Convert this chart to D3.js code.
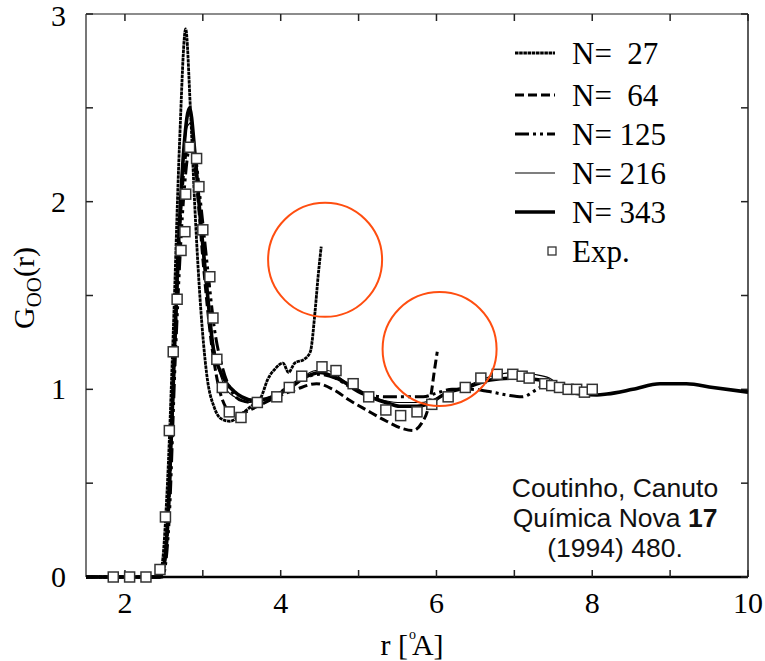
<!DOCTYPE html>
<html>
<head>
<meta charset="utf-8">
<script src="https://cdn.jsdelivr.net/npm/d3@7"></script>
<style>
  body { margin: 0; background: white; }
  svg { display: block; }
</style>
</head>
<body>
<div id="vis"></div>
<script>
// ---- data: [r (Å), G_OO(r)] ----
const n27 = [[1.5,0],[2.4,0],[2.47,0.05],[2.54,0.45],[2.62,1.3],[2.7,2.3],[2.78,2.92],[2.84,2.5],[2.9,1.95],[2.97,1.45],
  [3.05,1.08],[3.15,0.9],[3.25,0.84],[3.35,0.83],[3.5,0.87],[3.65,0.92],[3.75,0.96],[3.83,1.05],[3.93,1.11],[4.03,1.14],
  [4.1,1.09],[4.18,1.14],[4.3,1.16],[4.38,1.2],[4.44,1.41],[4.48,1.6],[4.52,1.76]]
const n64 = [[1.5,0],[2.46,0],[2.54,0.2],[2.62,1.0],[2.71,1.9],[2.8,2.28],[2.86,2.3],[2.93,2.05],[3.01,1.65],[3.1,1.28],
  [3.2,1.02],[3.3,0.9],[3.4,0.86],[3.55,0.88],[3.75,0.92],[3.95,0.96],[4.2,1.0],[4.46,1.03],[4.67,1.0],[4.89,0.94],
  [5.1,0.89],[5.36,0.83],[5.57,0.79],[5.7,0.78],[5.81,0.82],[5.88,0.88],[5.93,0.97],[5.97,1.09],[6.01,1.2]]
const n125 = [[1.5,0],[2.48,0],[2.56,0.25],[2.65,1.2],[2.75,2.0],[2.84,2.3],[2.9,2.25],[2.97,2.0],[3.06,1.65],[3.15,1.32],
  [3.25,1.12],[3.37,0.99],[3.5,0.94],[3.65,0.93],[3.85,0.95],[4.05,1.0],[4.25,1.05],[4.5,1.08],[4.7,1.06],[4.9,1.01],
  [5.1,0.97],[5.36,0.96],[5.6,0.96],[5.83,0.96],[6.0,0.98],[6.2,1.0],[6.45,1.0],[6.65,0.99],[6.9,0.97],[7.1,0.96],
  [7.29,1.0],[7.42,1.03],[7.6,1.01],[7.8,0.99]]
const n216 = [[1.5,0],[2.45,0],[2.53,0.2],[2.62,1.1],[2.72,2.0],[2.8,2.4],[2.85,2.42],[2.92,2.1],[3.0,1.72],[3.08,1.4],
  [3.18,1.15],[3.3,1.0],[3.45,0.95],[3.6,0.93],[3.8,0.95],[4.0,0.99],[4.2,1.04],[4.45,1.1],[4.6,1.1],[4.8,1.05],
  [5.0,0.99],[5.25,0.95],[5.5,0.93],[5.8,0.93],[6.1,0.97],[6.4,1.02],[6.7,1.07],[7.0,1.09],[7.25,1.08],[7.45,1.06],
  [7.62,1.01],[7.8,0.99],[7.95,0.985]]
const n343 = [[1.5,0],[2.45,0],[2.52,0.12],[2.6,0.8],[2.68,1.7],[2.76,2.3],[2.83,2.5],[2.9,2.25],[2.97,1.9],[3.05,1.55],
  [3.13,1.23],[3.22,1.1],[3.31,1.03],[3.4,0.99],[3.5,0.96],[3.67,0.94],[3.82,0.95],[4.0,0.98],[4.12,1.01],[4.34,1.07],
  [4.5,1.09],[4.72,1.06],[4.93,1.01],[5.15,0.96],[5.35,0.93],[5.53,0.91],[5.75,0.91],[5.88,0.92],[6.13,0.98],[6.39,1.01],
  [6.69,1.05],[7.03,1.06],[7.33,1.05],[7.5,1.02],[7.67,0.99],[7.85,0.975],[8.06,0.97],[8.19,0.975],[8.52,1.0],[8.87,1.03],
  [9.21,1.03],[9.55,1.01],[10,0.985]]
const expData = [[1.85,0],[2.06,0],[2.27,0],[2.45,0.04],[2.52,0.32],[2.57,0.78],[2.62,1.2],[2.67,1.48],[2.72,1.74],[2.77,1.84],
  [2.78,2.04],[2.83,2.29],[2.92,2.23],[2.95,2.08],[3.0,1.85],[3.09,1.6],[3.13,1.38],[3.18,1.16],[3.25,1.01],[3.34,0.88],
  [3.49,0.85],[3.7,0.93],[3.95,0.96],[4.11,1.01],[4.27,1.07],[4.53,1.12],[4.71,1.1],[4.93,1.03],[5.13,0.96],[5.35,0.89],
  [5.54,0.86],[5.75,0.88],[5.94,0.92],[6.15,0.96],[6.37,1.01],[6.57,1.06],[6.78,1.08],[6.98,1.08],[7.1,1.07],[7.19,1.06],
  [7.39,1.03],[7.48,1.02],[7.58,1.01],[7.69,1.0],[7.8,1.0],[7.9,0.985],[8.0,1.0]]

// highlighted truncation artefacts (circle centres, data units)
const highlights = [[4.57,1.69],[6.04,1.215]]

const legendLabels = ["N=  27","N=  64","N= 125","N= 216","N= 343"]
const xTicks = [2,3,4,5,6,7,8,9,10]
const xLabels = [2,4,6,8,10]
const yTicks = [0,0.5,1,1.5,2,2.5,3]
const yLabels = [0,1,2,3]

// ---- drawing ----
const width = 765, height = 661
const margin = {top: 14, right: 17, bottom: 84, left: 86}

const svg = d3.select("#vis").append("svg")
  .attr("width", width)
  .attr("height", height)

const x = d3.scaleLinear().domain([1.5, 10]).range([margin.left, width - margin.right])
const y = d3.scaleLinear().domain([0, 3]).range([height - margin.bottom, margin.top])

const serif = "'Liberation Serif', 'Times New Roman', serif"

const series = [
  {data: n27,  width: 2.8, dash: "3.5,0.7"},
  {data: n64,  width: 3,   dash: "9,4"},
  {data: n125, width: 3,   dash: "14,4,3,4,3,4"},
  {data: n216, width: 1.1, dash: null},
  {data: n343, width: 3.6, dash: null}
]

const line = d3.line()
  .x(d => x(d[0]))
  .y(d => y(d[1]))
  .curve(d3.curveMonotoneX)

// frame
const x0 = x.range()[0], x1 = x.range()[1], y0 = y.range()[0], y1 = y.range()[1]
svg.append("line").attr("x1", x0).attr("x2", x1).attr("y1", y1).attr("y2", y1)
  .attr("stroke", "#666").attr("stroke-width", 1.6)
svg.append("line").attr("x1", x0).attr("x2", x0).attr("y1", y1).attr("y2", y0)
  .attr("stroke", "#555").attr("stroke-width", 1.6)
svg.append("line").attr("x1", x1).attr("x2", x1).attr("y1", y1).attr("y2", y0)
  .attr("stroke", "#333").attr("stroke-width", 1.6)
svg.append("line").attr("x1", x0).attr("x2", x1).attr("y1", y0).attr("y2", y0)
  .attr("stroke", "#000").attr("stroke-width", 2.6)

// inward ticks
const tickLen = 7
xTicks.forEach(t => {
  svg.append("line").attr("x1", x(t)).attr("x2", x(t)).attr("y1", y0).attr("y2", y0 - tickLen)
    .attr("stroke", "#222").attr("stroke-width", 1.5)
  svg.append("line").attr("x1", x(t)).attr("x2", x(t)).attr("y1", y1).attr("y2", y1 + tickLen)
    .attr("stroke", "#222").attr("stroke-width", 1.5)
})
yTicks.forEach(t => {
  svg.append("line").attr("x1", x0).attr("x2", x0 + tickLen).attr("y1", y(t)).attr("y2", y(t))
    .attr("stroke", "#222").attr("stroke-width", 1.5)
  svg.append("line").attr("x1", x1).attr("x2", x1 - tickLen).attr("y1", y(t)).attr("y2", y(t))
    .attr("stroke", "#222").attr("stroke-width", 1.5)
})

svg.selectAll(".xlab").data(xLabels).join("text")
  .attr("class", "xlab")
  .attr("x", d => x(d)).attr("y", 613)
  .attr("text-anchor", "middle")
  .style("font-family", serif).style("font-size", "30px")
  .text(d => d)

svg.selectAll(".ylab").data(yLabels).join("text")
  .attr("class", "ylab")
  .attr("x", 66).attr("y", d => Math.max(y(d) + 10, 26))
  .attr("text-anchor", "end")
  .style("font-family", serif).style("font-size", "30px")
  .text(d => d)

// axis titles
const xt = svg.append("text")
  .attr("x", 412).attr("y", 655)
  .attr("text-anchor", "middle")
  .style("font-family", serif).style("font-size", "30px")
xt.append("tspan").text("r [")
xt.append("tspan").attr("dy", -16).attr("dx", 1).style("font-size", "14px").text("o")
xt.append("tspan").attr("dy", 16).attr("dx", -4).text("A]")

const yt = svg.append("text")
  .attr("transform", "translate(34,288) rotate(-90)")
  .attr("text-anchor", "middle")
  .style("font-family", serif).style("font-size", "30px")
yt.append("tspan").text("G")
yt.append("tspan").attr("dy", 7).style("font-size", "21px").text("OO")
yt.append("tspan").attr("dy", -7).text("(r)")

// curves
svg.selectAll(".curve").data(series).join("path")
  .attr("class", "curve")
  .attr("d", d => line(d.data))
  .attr("fill", "none")
  .attr("stroke", "#000")
  .attr("stroke-width", d => d.width)
  .attr("stroke-dasharray", d => d.dash)
  .attr("stroke-linejoin", "round")

// experimental points
const sq = 10
svg.selectAll(".exp").data(expData).join("rect")
  .attr("class", "exp")
  .attr("x", d => x(d[0]) - sq / 2)
  .attr("y", d => y(d[1]) - sq / 2)
  .attr("width", sq).attr("height", sq)
  .attr("fill", "white")
  .attr("stroke", "#333")
  .attr("stroke-width", 1.5)

// red circles
svg.selectAll(".hl").data(highlights).join("circle")
  .attr("class", "hl")
  .attr("cx", d => x(d[0])).attr("cy", d => y(d[1]))
  .attr("r", 57)
  .attr("fill", "none")
  .attr("stroke", "#ff4e10")
  .attr("stroke-width", 2)

// legend
const legend = svg.append("g")
const rowY = [53, 95, 134, 173, 212]
series.forEach((s, i) => {
  legend.append("line")
    .attr("x1", 515).attr("x2", 555).attr("y1", rowY[i]).attr("y2", rowY[i])
    .attr("stroke", "#000").attr("stroke-width", s.width)
    .attr("stroke-dasharray", s.dash)
  legend.append("text")
    .attr("x", 572).attr("y", rowY[i] + 11)
    .style("font-family", serif).style("font-size", "31px")
    .style("white-space", "pre")
    .attr("xml:space", "preserve")
    .text(legendLabels[i])
})
legend.append("rect")
  .attr("x", 548).attr("y", 247).attr("width", 8).attr("height", 8)
  .attr("fill", "white").attr("stroke", "#333").attr("stroke-width", 1.3)
legend.append("text")
  .attr("x", 572).attr("y", 262)
  .style("font-family", serif).style("font-size", "31px")
  .text("Exp.")

// citation
const cite = svg.append("text")
  .attr("text-anchor", "middle")
  .style("font-family", "'Liberation Sans', Arial, sans-serif")
  .style("font-size", "26.5px")
  .attr("fill", "#111")
cite.append("tspan").attr("x", 615).attr("y", 497).text("Coutinho, Canuto")
const l2 = cite.append("tspan").attr("x", 615).attr("y", 527)
l2.append("tspan").text("Química Nova ")
l2.append("tspan").style("font-weight", "bold").text("17")
cite.append("tspan").attr("x", 615).attr("y", 557).text("(1994) 480.")
</script>
</body>
</html>
